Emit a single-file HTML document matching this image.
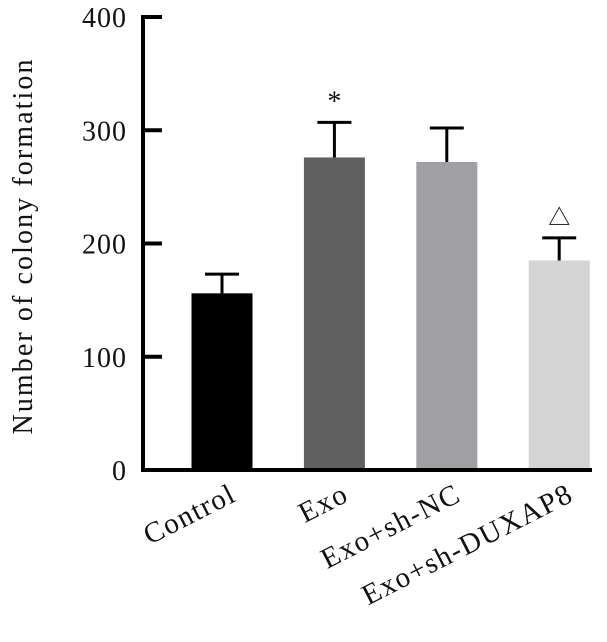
<!DOCTYPE html>
<html><head><meta charset="utf-8"><style>
body{margin:0;background:#fff}
text{font-family:"Liberation Serif","Noto Serif CJK SC",serif;fill:#111}
</style></head><body>
<svg width="607" height="637">
<g id="plot"></g>
</svg>
<script>
const categories=["Control","Exo","Exo+sh-NC","Exo+sh-DUXAP8"];
const values=[156,276,272,185];
const errors=[17,31,30,20];
const colors=["#000000","#606060","#a09fa3","#d4d4d4"];
const marks=["","*","","△"];
const ticks=[0,100,200,300,400];
const NS="http://www.w3.org/2000/svg";
const g=document.getElementById('plot');
const y0=470,y1=17,vmax=400;
const y=v=>y0-(y0-y1)*v/vmax;
const x=i=>222+i*112.4;
const bw=61;
function mk(t,a){const e=document.createElementNS(NS,t);for(const k in a)e.setAttribute(k,a[k]);g.appendChild(e);return e;}
ticks.forEach(t=>{
 const l=mk('line',{x1:143,x2:162,y1:y(t),y2:y(t),stroke:'#000','stroke-width':4});
 
 
 const tx=mk('text',{x:127,y:y(t)+10,'text-anchor':'end','font-size':28,'letter-spacing':1});
 tx.textContent=t;
 
 
});
categories.forEach((c,i)=>{
 const v=values[i],cx=x(i);
 const b=mk('rect',{x:cx-bw/2,y:y(v),width:bw,height:y0-y(v),fill:colors[i]});
 
 
 const ev=v+errors[i];
 const e1=mk('line',{x1:cx,x2:cx,y1:y(v),y2:y(ev),stroke:'#000','stroke-width':3});
 
 
 const e2=mk('line',{x1:cx-17,x2:cx+17,y1:y(ev),y2:y(ev),stroke:'#000','stroke-width':3});
 
 
 if(marks[i]){
  const m=mk('text',{x:cx,y:y(ev)-(marks[i]=='*'?12:13),'text-anchor':'middle','font-size':marks[i]=='*'?28:22,fill:'#333'});
  m.textContent=marks[i];
  
  
 }
 const lx=cx+16,ly=500;
 const lt=mk('text',{x:lx,y:ly,'text-anchor':'end','font-size':29,'letter-spacing':1.5,transform:`rotate(-27 ${lx} ${ly})`});
 lt.textContent=c;
 
 
});
const ya=mk('line',{x1:143,x2:143,y1:15,y2:472,stroke:'#000','stroke-width':4});


const xa=mk('line',{x1:141,x2:592,y1:470,y2:470,stroke:'#000','stroke-width':4});


const yt=mk('text',{x:32,y:247,'text-anchor':'middle','font-size':28,textLength:375,lengthAdjust:'spacing',transform:'rotate(-90 32 247)'});
yt.textContent='Number of colony formation';


</script>
</body></html>
